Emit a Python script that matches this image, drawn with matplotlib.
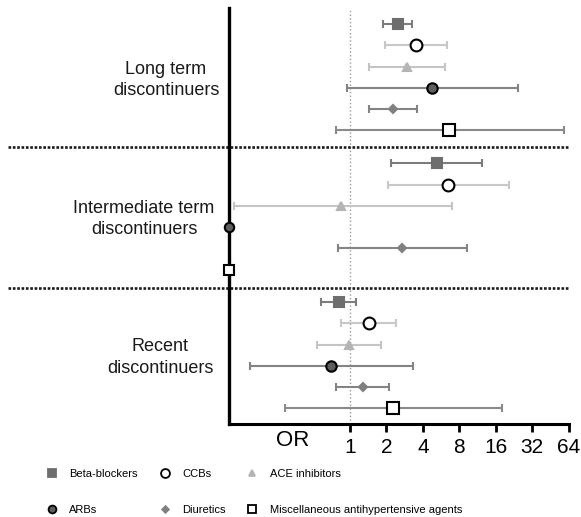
import numpy as np
import matplotlib
matplotlib.use("Agg")
import matplotlib.pyplot as plt
from matplotlib.transforms import blended_transform_factory

plt.rcParams['font.family'] = ['Liberation Sans', 'DejaVu Sans']

groups = ["Long term\ndiscontinuers", "Intermediate term\ndiscontinuers", "Recent\ndiscontinuers"]
drugs = ["Beta-blockers", "CCBs", "ACE inhibitors", "ARBs", "Diuretics",
         "Miscellaneous antihypertensive agents"]

# odds ratios with 95% CI, None = not estimable (drawn at the axis edge)
or_long = [2.48, 3.51, 2.96, 4.8, 2.25, 6.59]
lo_long = [1.89, 1.94, 1.43, 0.95, 1.44, 0.76]
hi_long = [3.28, 6.3, 6.14, 24.3, 3.56, 58.0]
or_mid = [5.21, 6.46, 0.84, None, 2.71, None]
lo_mid = [2.17, 2.05, 0.11, None, 0.79, None]
hi_mid = [12.4, 20.6, 6.98, None, 9.34, None]
or_rec = [0.81, 1.43, 0.99, 0.70, 1.27, 2.28]
lo_rec = [0.58, 0.85, 0.53, 0.15, 0.77, 0.29]
hi_rec = [1.13, 2.39, 1.8, 3.34, 2.09, 18.1]

ticks = [1, 2, 4, 8, 16, 32, 64]

# style per drug: marker, size, face, edge, bar colour
styles = [
    ("s", 7, "#6e6e6e", "#6e6e6e", "#7c7c7c"),
    ("o", 8.5, "white", "black", "#c8c8c8"),
    ("^", 6, "#b4b4b4", "#b4b4b4", "#c4c4c4"),
    ("o", 7.5, "#5e5e5e", "black", "#848484"),
    ("D", 4.5, "#808080", "#808080", "#848484"),
    ("s", 8, "white", "black", "#8a8a8a"),
]

fig = plt.figure(figsize=(5.81, 5.17), dpi=100)
ax = fig.add_axes([229.3 / 581, 1 - 424 / 517, 339.4 / 581, 416 / 517])
ax.set_xscale("log", base=2)
xmin = 2 ** -3.31
ax.set_xlim(xmin, 64)
ax.set_ylim(18.78, -0.75)

offsets = [0, 6.54, 13.05]
dividers = [5.79, 12.38]
data = [(or_long, lo_long, hi_long), (or_mid, lo_mid, hi_mid), (or_rec, lo_rec, hi_rec)]

ax.axvline(1, color="#9a9a9a", lw=1, ls=":", zorder=1)

for g, (ors, los, his) in enumerate(data):
    for i in range(len(drugs)):
        m, ms, fc, ec, bc = styles[i]
        y = offsets[g] + i
        if ors[i] is None:
            ax.plot([xmin], [y], marker=m, ms=ms * 0.9, mfc=fc, mec=ec, mew=1.5,
                    clip_on=False, zorder=5)
            continue
        ax.errorbar([ors[i]], [y], xerr=[[ors[i] - los[i]], [his[i] - ors[i]]],
                    fmt="none", ecolor=bc, elinewidth=1.5, capsize=3, capthick=1.5,
                    zorder=2)
        ax.plot([ors[i]], [y], marker=m, ms=ms, mfc=fc, mec=ec, mew=1.5,
                ls="none", zorder=3)

for d in dividers:
    ax.axhline(d, xmin=(8 - 229.3) / 339.4, xmax=1, color="#1a1a1a", lw=1.9,
               ls=(0, (1, 0.65)), clip_on=False)

trans = blended_transform_factory(fig.transFigure, ax.transData)
label_x = [166, 144, 160]
for g, name in enumerate(groups):
    ax.text(label_x[g] / 581, offsets[g] + 2.62, name, transform=trans,
            ha="center", va="center", fontsize=13, color="#1a1a1a",
            linespacing=1.35)

for s in ["top", "right"]:
    ax.spines[s].set_visible(False)
ax.spines["left"].set_linewidth(2.4)
ax.spines["bottom"].set_linewidth(2.2)
ax.set_yticks([])
ax.set_xticks(ticks)
ax.set_xticklabels([str(t) for t in ticks])
ax.minorticks_off()
ax.tick_params(axis="x", length=6, width=2, labelsize=15, pad=4)
fig.text(293 / 581, 1 - 441 / 517, "OR", ha="center", va="center", fontsize=16)

handles = []
for i in range(len(drugs)):
    m, ms, fc, ec, bc = styles[i]
    h, = ax.plot([], [], marker=m, ms=ms * 0.75, mfc=fc, mec=ec, mew=1.3, ls="none")
    handles.append(h)
order = [0, 3, 1, 4, 2, 5]
fig.legend([handles[i] for i in order], [drugs[i] for i in order], ncol=3,
           loc="upper left", bbox_to_anchor=(46 / 581, 1 - 469 / 517),
           frameon=False, fontsize=8, handlelength=1.0, handletextpad=1.1,
           columnspacing=1.9, labelspacing=2.35, borderpad=0, borderaxespad=0)

fig.savefig("out.png", dpi=100)
